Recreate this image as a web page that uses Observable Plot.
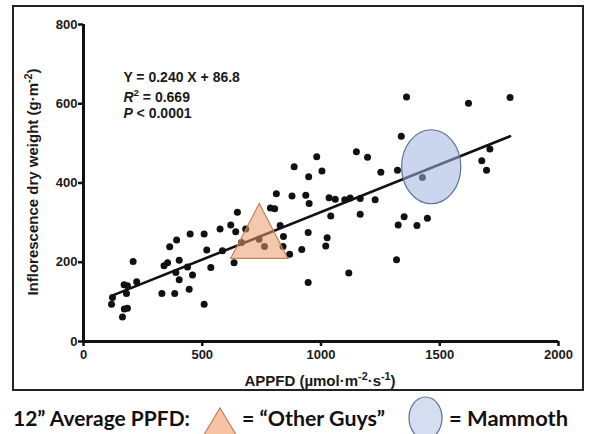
<!DOCTYPE html>
<html><head><meta charset="utf-8">
<script src="https://cdn.jsdelivr.net/npm/d3@7"></script>
<script src="https://cdn.jsdelivr.net/npm/@observablehq/plot@0.6"></script>
<style>
body{margin:0;background:#fff;}
#wrap{position:relative;width:590px;height:434px;overflow:hidden;background:#fff;}
#wrap svg{display:block;}
#wrap svg.main, #wrap svg.main text{font-family:Arial, "Liberation Sans", sans-serif;}
</style></head><body><div id="wrap"></div>
<script>
// APPFD (µmol·m-2·s-1)
const ppfd = [118,122,164,172,185,171,185,181,209,224,330,384,339,354,363,392,403,389,403,438,459,449,445,508,508,519,536,575,585,620,641,648,665,683,634,739,762,787,805,812,828,842,840,868,878,887,919,936,950,948,946,946,982,1004,1020,1026,1034,1060,1041,1100,1123,1165,1165,1117,1149,1196,1228,1252,1322,1318,1325,1350,1404,1448,1338,1360,1427,1621,1796,1711,1677,1697];
// Inflorescence dry weight (g·m-2)
const weight = [94,111,62,82,84,143,141,121,202,151,121,121,191,199,239,256,205,174,156,188,168,271,132,94,271,231,187,284,229,294,277,326,250,284,199,258,240,337,335,373,293,265,240,220,367,441,232,369,348,416,275,149,466,430,241,262,363,359,317,358,362,361,321,173,479,465,358,427,432,206,294,315,293,311,518,617,414,601,616,486,456,432];
const xTicks = [0,500,1000,1500,2000];
const yTicks = [0,200,400,600,800];
const slope = 0.240, intercept = 86.8;
// 12" average PPFD markers
const markerNames = ["Other Guys","Mammoth"];
const markerX = [740,1464];
const markerY = [279,441];

const points = ppfd.map((x,i)=>({x, y: weight[i]}));
const regX = d3.extent(ppfd);
const regLine = regX.map(x=>({x, y: slope*x+intercept}));

const triSym = {draw(ctx,size){const r=Math.sqrt(size/Math.PI);ctx.moveTo(0,-r);ctx.lineTo(1.04*r,r);ctx.lineTo(-1.04*r,r);ctx.closePath();}};
const ellSym = {draw(ctx,size){const r=Math.sqrt(size/Math.PI);const rx=0.8*r,ry=r,k=0.5523;
  ctx.moveTo(rx,0);ctx.bezierCurveTo(rx,ry*k,rx*k,ry,0,ry);ctx.bezierCurveTo(-rx*k,ry,-rx,ry*k,-rx,0);
  ctx.bezierCurveTo(-rx,-ry*k,-rx*k,-ry,0,-ry);ctx.bezierCurveTo(rx*k,-ry,rx,-ry*k,rx,0);ctx.closePath();}};

const plot = Plot.plot({
  width:590, height:393,
  marginLeft:83, marginRight:32, marginTop:24, marginBottom:52,
  x:{domain:[0,2000]}, y:{domain:[0,800]},
  className:"main",
  style:{fontSize:"13px", fontWeight:"bold", color:"#1a1a1a", background:"#fff"},
  marks:[
    Plot.dot(points, {x:"x", y:"y", r:3.5, fill:"#111", stroke:null}),
    Plot.line(regLine, {x:"x", y:"y", stroke:"#111", strokeWidth:2.6}),
    Plot.dot([0], {x:()=>markerX[0], y:()=>markerY[0], symbol:triSym, r:27.5, fill:"#eb9a68", fillOpacity:0.55, stroke:"#c0805b", strokeWidth:1.2}),
    Plot.dot([1], {x:()=>markerX[1], y:()=>markerY[1], symbol:ellSym, r:37, fill:"#9fb5e0", fillOpacity:0.55, stroke:"#5d6f94", strokeWidth:1.2}),
    Plot.ruleY([0], {x1:0, x2:2000, stroke:"#111", strokeWidth:3}),
    Plot.ruleX([0], {y1:0, y2:800, stroke:"#111", strokeWidth:3}),
    Plot.axisX({ticks:xTicks, tickFormat:d3.format("d"), tickSize:5, tickPadding:3, strokeWidth:2.5, stroke:"#111", label:null}),
    Plot.axisY({ticks:yTicks, tickFormat:d3.format("d"), tickSize:5, tickPadding:1, strokeWidth:2.5, stroke:"#111", label:null})
  ]
});
document.getElementById("wrap").appendChild(plot);

const svg = d3.select(plot).style("font-family","Arial, 'Liberation Sans', sans-serif");
const sx = plot.scale("x"), sy = plot.scale("y");
// outer frame
svg.append("rect").attr("x",13).attr("y",6).attr("width",570).attr("height",384)
  .attr("fill","none").attr("stroke","#222").attr("stroke-width",2);

// y label
const yl = svg.append("text").attr("transform","translate(38,182) rotate(-90)")
  .attr("text-anchor","middle").attr("font-size",15).attr("font-weight","bold").attr("fill","#1a1a1a");
yl.append("tspan").text("Inflorescence dry weight (g·m");
yl.append("tspan").attr("dy",-6).attr("font-size","0.72em").text("-2");
yl.append("tspan").attr("dy",6).text(")");
// x label
const xl = svg.append("text").attr("x",320).attr("y",386)
  .attr("text-anchor","middle").attr("font-size",15).attr("font-weight","bold").attr("fill","#1a1a1a");
xl.append("tspan").text("APPFD (µmol·m");
xl.append("tspan").attr("dy",-6).attr("font-size","0.72em").text("-2");
xl.append("tspan").attr("dy",6).text("·s");
xl.append("tspan").attr("dy",-6).attr("font-size","0.72em").text("-1");
xl.append("tspan").attr("dy",6).text(")");

// equation text
const ex = sx.apply(170);
const eq = svg.append("g").attr("font-size",14).attr("font-weight","bold").attr("fill","#1a1a1a").attr("text-anchor","start");
eq.append("text").attr("x",ex).attr("y",82).text("Y = 0.240 X + 86.8");
const r2 = eq.append("text").attr("x",ex).attr("y",102);
r2.append("tspan").attr("font-style","italic").text("R");
r2.append("tspan").attr("dy",-6).attr("font-size","0.7em").text("2");
r2.append("tspan").attr("dy",6).text(" = 0.669");
const pv = eq.append("text").attr("x",ex).attr("y",118);
pv.append("tspan").attr("font-style","italic").text("P");
pv.append("tspan").text(" < 0.0001");

// legend below
const lg = d3.select("#wrap").append("svg").attr("width",590).attr("height",41);
const lf = "Lato, 'Open Sans', sans-serif";
function lt(x, s, w){ lg.append("text").attr("x",x).attr("y",32.7).attr("font-family",lf).attr("font-weight","bold")
  .attr("font-size",21).attr("fill","#111").attr("textLength",w).attr("lengthAdjust","spacingAndGlyphs").text(s); }
lt(13, "12\u201D Average PPFD:", 177);
lg.append("path").attr("d","M220,15 L247,60 L193,60 Z").attr("fill","#f7c4a3").attr("stroke","#c0805b").attr("stroke-width",1.2);
lt(242, "= \u201COther Guys\u201D", 143);
lg.append("ellipse").attr("cx",425.5).attr("cy",25).attr("rx",16.5).attr("ry",21).attr("fill","#d5def1").attr("stroke","#5d6f94").attr("stroke-width",1.2);
lt(449, "= Mammoth", 119);
</script></body></html>
